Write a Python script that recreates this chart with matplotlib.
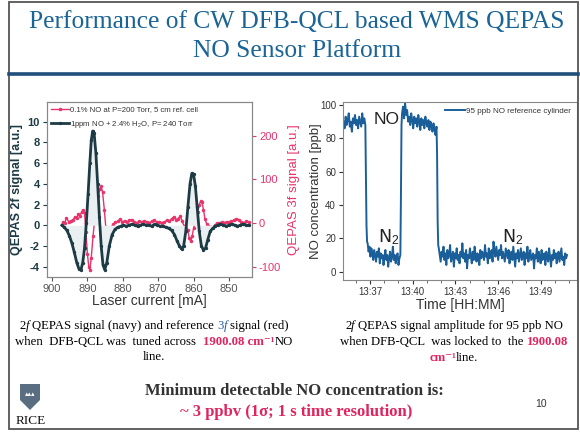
import matplotlib
matplotlib.use('Agg')
import matplotlib.pyplot as plt
import numpy as np
from matplotlib.patches import Rectangle, Polygon
from matplotlib.ticker import MultipleLocator
from matplotlib.lines import Line2D

plt.rcParams['axes.unicode_minus'] = False
plt.rcParams['mathtext.fontset'] = 'custom'
plt.rcParams['mathtext.rm'] = 'Liberation Sans'
plt.rcParams['mathtext.it'] = 'Liberation Sans:italic'
plt.rcParams['mathtext.bf'] = 'Liberation Sans:bold'
SANS = ['Liberation Sans', 'DejaVu Sans']
SERIF = ['Liberation Serif', 'DejaVu Serif']

# ---------------- data: left chart (laser current scan) ----------------
navy_current = [897.2, 896.5, 895.8, 895.1, 894.4, 893.7, 893.0, 892.4, 891.8, 891.3,
                890.8, 890.3, 889.8, 889.3, 888.9, 888.5, 888.1, 887.6, 887.1, 886.6,
                886.1, 885.6, 885.1, 884.5, 883.8, 883.0, 882.2, 881.4, 880.6, 879.8,
                879.0, 878.2, 877.4, 876.6, 875.8, 875.0, 874.2, 873.4, 872.6, 871.8,
                871.0, 870.2, 869.4, 868.6, 867.8, 867.0, 866.2, 865.4, 864.7, 864.0,
                863.4, 862.8, 862.2, 861.6, 861.0, 860.5, 860.0, 859.5, 859.0, 858.4,
                857.8, 857.2, 856.6, 856.0, 855.3, 854.6, 853.9, 853.2, 852.4, 851.6,
                850.8, 850.0, 849.2, 848.4, 847.6, 846.8, 846.0, 845.2, 844.4]
navy_2f = [0.0, -0.2, -0.5, -1.0, -1.7, -2.6, -3.6, -4.2, -4.3, -3.6,
           -2.2, 0.2, 3.0, 6.0, 8.2, 9.1, 8.9, 7.0, 4.0, 0.8,
           -2.0, -3.8, -4.3, -3.6, -2.0, -0.9, -0.4, -0.2, -0.1, 0.0,
           -0.1, 0.0, 0.1, 0.0, -0.1, 0.0, 0.1, 0.0, 0.0, -0.1,
           0.1, 0.0, -0.1, -0.1, -0.2, -0.3, -0.5, -0.9, -1.5, -2.0,
           -2.3, -2.0, -0.6, 1.8, 4.0, 5.0, 4.9, 3.8, 1.8, -0.6,
           -2.0, -2.4, -2.2, -1.4, -0.6, -0.3, -0.1, 0.0, 0.1, 0.0,
           -0.1, 0.0, 0.1, 0.0, -0.1, 0.0, 0.1, 0.0, 0.0]

red_current = [897.0, 896.4, 895.9, 895.3, 894.7, 894.1, 893.5, 893.0, 892.6, 892.1,
               891.6, 891.2, 890.8, 890.4, 890.0, 889.6, 889.3, 888.9, 888.4, 887.9,
               887.4, 886.9, 886.5, 886.1, 885.7, 885.2, 884.8, 884.4, 883.9, 883.3,
               882.7, 882.1, 881.4, 880.8, 880.2, 879.5, 878.8, 878.1, 877.4, 876.7,
               876.0, 875.3, 874.6, 873.9, 873.2, 872.5, 871.8, 871.1, 870.4, 869.7,
               869.0, 868.3, 867.6, 866.9, 866.2, 865.6, 865.0, 864.4, 863.8, 863.2,
               862.7, 862.2, 861.7, 861.2, 860.8, 860.4, 860.0, 859.6, 859.2, 858.8,
               858.4, 858.0, 857.6, 857.2, 856.8, 856.3, 855.8, 855.2, 854.6, 854.0,
               853.4, 852.8, 852.1, 851.4, 850.7, 850.0, 849.3, 848.6, 847.9, 847.2,
               846.5, 845.8, 845.1, 844.4]
red_3f = [2, 0, 12, 3, 5, 7, 14, 12, 20, 17,
          26, 30, 22, -20, -70, -100, -107, -80, -30, 10,
          40, 62, 78, 84, 70, 30, -10, -30, -25, -10,
          -3, 2, 4, 9, 3, 5, 2, 6, 8, 3,
          1, 4, 2, 5, 3, 1, 4, 7, 2, 3,
          1, 2, 6, 4, 10, 14, 8, 10, 15, 5,
          -8, -3, -15, -35, -42, -30, -12, 0, 5, 25,
          42, 50, 47, 30, 10, -2, -6, -8, -9, -5,
          -1, 0, 2, 1, 3, 2, 4, 7, 10, 8,
          3, 1, 4, 2]

left_xticks = [900, 890, 880, 870, 860, 850]
left_yticks = [-4, -2, 0, 2, 4, 6, 8, 10]
right_yticks = [-100, 0, 100, 200]
red_label = '0.1% NO at P=200 Torr, 5 cm ref. cell'
navy_label = '1ppm NO + 2.4% H$_2$O, P= 240 Torr'

# ---------------- data: right chart (time series, minutes after 13:00) ----------------
seg_bounds = [(35.15, 36.68), (36.72, 36.80), (36.84, 39.14), (39.18, 39.22),
              (39.26, 41.68), (41.72, 41.80), (41.84, 50.85)]
no1_vals = [90, 86, 93, 88, 91, 95, 87, 90, 84, 92, 89, 94, 88, 91, 86, 93, 90, 87, 95, 89, 92, 88]
drop1_vals = [60, 28, 18]
n2a_vals = [17, 12, 15, 9, 14, 11, 7, 13, 10, 6, 12, 9, 14, 5, 11, 8, 10, 4, 9, 13,
            7, 10, 3, 8, 12, 6, 9, 15, 7, 10, 5, 9, 11, 4, 8, 10]
rise_vals = [45, 88]
no2_vals = [95, 99, 92, 101, 94, 97, 90, 93, 88, 95, 91, 86, 93, 89, 92, 87, 94, 90, 85, 92,
            88, 91, 86, 93, 89, 87, 91, 85, 90, 88, 84, 89, 86, 82, 87]
drop2_vals = [70, 30, 16]
n2b_vals = [14, 10, 6, 12, 9, 15, 7, 11, 4, 13, 8, 10, 16, 6, 9, 12, 3, 11, 8, 14,
            7, 10, 5, 12, 9, 17, 8, 11, 6, 13, 2, 10, 8, 14, 9, 5, 12, 7, 15, 10,
            6, 11, 9, 4, 13, 8, 12, 10, 7, 16, 9, 11, 5, 14, 8, 10, 13, 6, 18, 12,
            9, 15, 11, 7, 13, 10, 16, 8, 12, 9, 6, 14, 11, 8, 13, 5, 10, 12, 7, 15,
            9, 3, 11, 8, 13, 6, 10, 14, 7, 9, 12, 4, 11, 8, 15, 6, 10, 13, 7, 9,
            11, 2, 10, 8, 14, 6, 12, 9, 5, 13, 7, 10, 11, 4, 12, 8, 6, 14, 9, 3,
            10, 7, 13, 8, 11, 5, 9, 12, 6, 10, 14, 7, 9, 4, 11, 8, 10]
time_ticks = [37, 40, 43, 46, 49]
time_labels = ['13:37', '13:40', '13:43', '13:46', '13:49']
conc_ticks = [0, 20, 40, 60, 80, 100]
ts_label = '95 ppb NO reference cylinder'

# ---------------- figure ----------------
W, H = 580, 432
fig = plt.figure(figsize=(5.8, 4.32), dpi=100)
fig.patch.set_facecolor('white')

def fx(px):
    return px / W

def fy(py):
    return 1 - py / H

# slide frame
fig.patches.append(Rectangle((fx(9), fy(429)), fx(578) - fx(9), fy(2) - fy(429),
                             transform=fig.transFigure, fill=False, ec='#555555', lw=1.3))
fig.add_artist(Line2D([fx(9), fx(578)], [fy(74), fy(74)], transform=fig.transFigure,
                      color='#1f4f7a', lw=2.6))

# title
fig.text(fx(297), fy(22), 'Performance of CW DFB-QCL based WMS QEPAS', ha='center', va='center',
         fontsize=18.4, family=SERIF, color='#1b6496')
fig.text(fx(297), fy(51), 'NO Sensor Platform', ha='center', va='center',
         fontsize=18.4, family=SERIF, color='#1b6496')

NAVY = '#1d3b45'
PINK = '#e8336b'

# ---------------- left chart ----------------
ax = fig.add_axes([fx(47), fy(277), fx(252) - fx(47), fy(102) - fy(277)])
ax2 = ax.twinx()
ax.fill_between(navy_current, navy_2f, 0, color='#eaeff1', lw=0, zorder=1)
ln_navy, = ax.plot(navy_current, navy_2f, color=NAVY, lw=2.0, marker='o', ms=1.4, zorder=3)
ln_red, = ax2.plot(red_current, red_3f, color=PINK, lw=1.0, marker='o', ms=1.5, zorder=2)
ax.set_zorder(ax2.get_zorder() + 1)
ax.patch.set_visible(False)
ax.set_xlim(901.4, 843.5)
ax.set_ylim(-5, 11.9)
ax2.set_ylim(-123.6, 277)
ax.set_xticks(left_xticks)
ax.set_xticklabels([str(v) for v in left_xticks])
ax.set_yticks(left_yticks)
ax.set_yticklabels([str(v) for v in left_yticks])
ax2.set_yticks(right_yticks)
ax2.set_yticklabels([str(v) for v in right_yticks])
for t in ax.get_yticklabels():
    t.set_fontweight('bold')
    t.set_family(SANS)
ax.tick_params(axis='y', labelsize=8, colors=NAVY, length=3, width=0.8, pad=2)
ax.tick_params(axis='x', labelsize=8, colors='#555555', length=3, width=0.8, pad=2)
ax2.tick_params(axis='y', labelsize=8, colors=PINK, length=3, width=0.8, pad=2)
for t in ax.get_xticklabels() + ax2.get_yticklabels():
    t.set_family(SANS)
for a in (ax, ax2):
    for s in a.spines.values():
        s.set_color('#888888')
        s.set_linewidth(0.8)
ax.set_xlabel('Laser current [mA]', fontsize=10, family=SANS, color='#333333', labelpad=0)
ax.set_ylabel('QEPAS 2f signal [a.u.]', fontsize=9, family=SANS, color=NAVY,
              fontweight='bold')
ax.yaxis.set_label_coords((23 - 47) / 205, 0.5)
ax2.set_ylabel('QEPAS 3f signal [a.u.]', fontsize=9.5, family=SANS, color=PINK)
ax2.yaxis.set_label_coords((288 - 47) / 205, 0.5)
leg = ax.legend([ln_red, ln_navy], [red_label, navy_label], loc='upper left',
                bbox_to_anchor=(0.0, 1.0), frameon=False, fontsize=5.6, handlelength=2.3,
                handletextpad=0.2, borderpad=0.3, labelspacing=0.75, borderaxespad=0.2)
for t in leg.get_texts():
    t.set_family(SANS)
    t.set_color('#333333')

# ---------------- right chart ----------------
ax3 = fig.add_axes([fx(343), fy(280), fx(577) - fx(343), fy(102) - fy(280)])
seg_vals = [no1_vals, drop1_vals, n2a_vals, rise_vals, no2_vals, drop2_vals, n2b_vals]
t_all = np.concatenate([np.linspace(a, b, len(v)) for (a, b), v in zip(seg_bounds, seg_vals)])
c_all = np.concatenate([np.asarray(v, float) for v in seg_vals])
ax3.plot(t_all, c_all, color='#1b5f9a', lw=1.4, label=ts_label)
ax3.set_xlim(35.11, 51.55)
ax3.set_ylim(-5, 101.8)
ax3.set_xticks(time_ticks)
ax3.set_xticklabels(time_labels)
ax3.xaxis.set_minor_locator(MultipleLocator(1))
ax3.set_yticks(conc_ticks)
ax3.set_yticklabels([str(v) for v in conc_ticks])
ax3.tick_params(axis='both', which='major', labelsize=7, colors='#333333', length=3, width=0.8, pad=2)
ax3.tick_params(axis='x', which='minor', length=2, width=0.6, colors='#555555')
for t in ax3.get_xticklabels() + ax3.get_yticklabels():
    t.set_family(SANS)
for s in ax3.spines.values():
    s.set_color('#888888')
    s.set_linewidth(0.8)
ax3.set_xlabel('Time [HH:MM]', fontsize=10, family=SANS, color='#333333', labelpad=1)
ax3.set_ylabel('NO concentration [ppb]', fontsize=9.5, family=SANS, color='#333333')
ax3.yaxis.set_label_coords((322 - 343) / 234, 0.5)
ax3.text(38.2, 91, 'NO', ha='center', va='center', fontsize=12.5, family=SANS, color='#222222')
ax3.text(38.35, 21, 'N$_2$', ha='center', va='center', fontsize=12.5, color='#222222')
ax3.text(47.0, 21, 'N$_2$', ha='center', va='center', fontsize=12.5, color='#222222')
leg3 = ax3.legend(loc='upper right', frameon=False, fontsize=5.8, handlelength=2.5,
                  handletextpad=0.2, borderaxespad=0.3)
for t in leg3.get_texts():
    t.set_family(SANS)
    t.set_color('#333333')

# ---------------- captions ----------------
RED = '#e0245e'
renderer = fig.canvas.get_renderer()

def rich(xc, ybase, segs, size):
    p1 = fig.text(0, 0, 'x x', fontsize=size, family=SERIF)
    p2 = fig.text(0, 0, 'xx', fontsize=size, family=SERIF)
    sw = p1.get_window_extent(renderer).width - p2.get_window_extent(renderer).width
    p1.remove()
    p2.remove()
    items = []
    for s, kw in segs:
        lead = len(s) - len(s.lstrip(' '))
        trail = len(s) - len(s.rstrip(' '))
        core = s.strip(' ')
        t = fig.text(0, fy(ybase), core, fontsize=size, family=SERIF, ha='left',
                     va='baseline', **kw)
        w = t.get_window_extent(renderer).width
        items.append((lead * sw, t, w, trail * sw))
    total = sum(a + w + b for a, _, w, b in items)
    x = xc - total / 2
    for a, t, w, b in items:
        x += a
        t.set_x(fx(x))
        x += w + b

CS = 9.2
rich(154, 329, [('2', {}), ('f', {'style': 'italic'}),
                (' QEPAS signal (navy) and reference ', {}),
                ('3', {'color': '#2a5fa8'}), ('f', {'style': 'italic', 'color': '#2a5fa8'}),
                (' signal (red)', {})], CS)
rich(154, 345, [('when  DFB-QCL was  tuned across  ', {}),
                ('1900.08 cm\u207b\u00b9', {'color': RED, 'fontweight': 'bold'}),
                ('NO', {})], CS)
rich(154, 360, [('line.', {})], CS)

rich(454, 329, [('2', {}), ('f', {'style': 'italic'}),
                (' QEPAS signal amplitude for 95 ppb NO', {})], CS)
rich(454, 345, [('when DFB-QCL  was locked to  the ', {}),
                ('1900.08', {'color': RED, 'fontweight': 'bold'})], CS)
rich(454, 361, [('cm\u207b\u00b9', {'color': RED, 'fontweight': 'bold'}), ('line.', {})], CS)

fig.text(fx(294), fy(391), 'Minimum detectable NO concentration is:', ha='center', va='center',
         fontsize=12, family=SERIF, fontweight='bold', color='#333333')
fig.text(fx(296), fy(412), '~ 3 ppbv (1\u03c3; 1 s time resolution)', ha='center', va='center',
         fontsize=12, family=SERIF, fontweight='bold', color=RED)
fig.text(fx(541), fy(404), '10', ha='center', va='center', fontsize=7.5, family=SANS,
         color='#333333')

# RICE logo
fig.patches.append(Polygon([[fx(20), fy(384)], [fx(40), fy(384)], [fx(40), fy(400)],
                            [fx(30), fy(410)], [fx(20), fy(400)]], closed=True,
                           transform=fig.transFigure, fc='#5a6e82', ec='none'))
fig.text(fx(30), fy(395), '\u25b4\u25b4\u25b4', ha='center', va='center', fontsize=5,
         family=SANS, color='white')
fig.text(fx(31), fy(421), 'RICE', ha='center', va='center', fontsize=9.5, family=SERIF,
         color='#111111')

fig.savefig('out.png', dpi=100)
